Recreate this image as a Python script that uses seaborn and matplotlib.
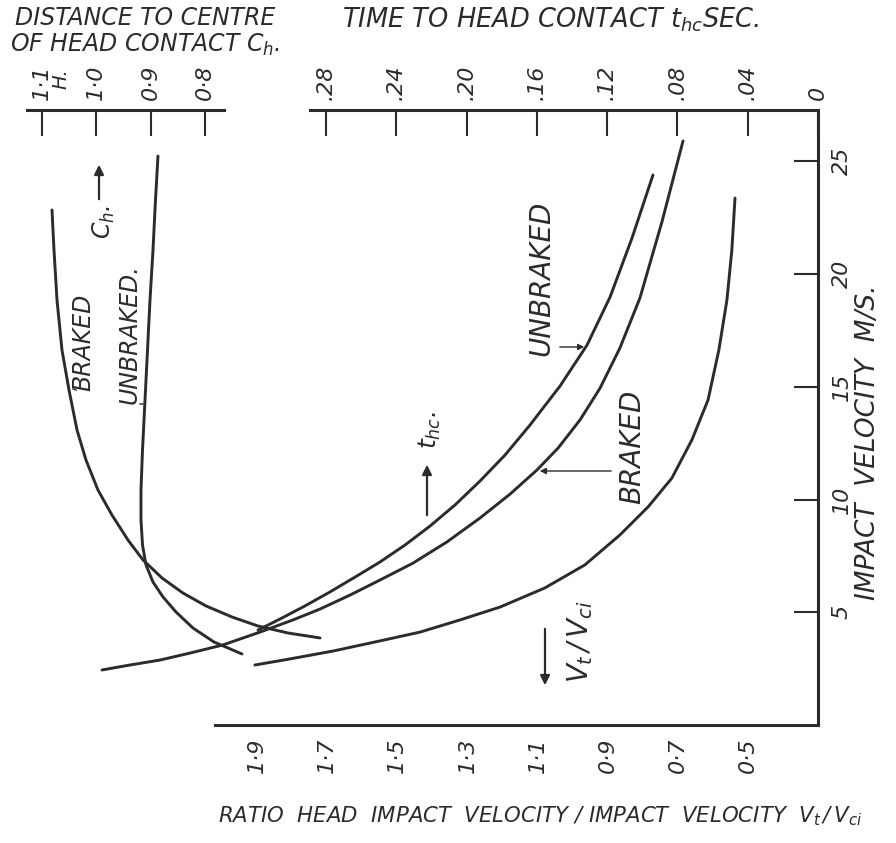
import matplotlib
matplotlib.use("Agg")
import matplotlib.pyplot as plt
import seaborn as sns

# ---------------- data ----------------
vel_ticks = [5, 10, 15, 20, 25]
vel_labels = ["5", "10", "15", "20", "25"]
ratio_ticks = [1.9, 1.7, 1.5, 1.3, 1.1, 0.9, 0.7, 0.5]
ratio_labels = ["1·9", "1·7", "1·5", "1·3", "1·1", "0·9", "0·7", "0·5"]
thc_ticks = [0.28, 0.24, 0.20, 0.16, 0.12, 0.08, 0.04, 0.0]
thc_labels = [".28", ".24", ".20", ".16", ".12", ".08", ".04", "0"]
ch_ticks = [1.1, 1.0, 0.9, 0.8]
ch_labels = ["1·1", "1·0", "0·9", "0·8"]

# head impact velocity ratio Vt/Vci versus impact velocity
vt_ratio = [0.537, 0.546, 0.560, 0.583, 0.614, 0.660, 0.717, 0.785, 0.865,
            0.965, 1.079, 1.207, 1.321, 1.435, 1.549, 1.683, 1.806, 1.906]
vt_vel = [23.37, 21.06, 18.85, 16.63, 14.41, 12.64, 10.95, 9.67, 8.43,
          7.10, 6.08, 5.23, 4.66, 4.12, 3.73, 3.28, 2.93, 2.66]

# time to head contact, unbraked
thc_unbr_t = [0.0939, 0.1058, 0.1183, 0.1314, 0.1468, 0.1639, 0.1781, 0.1923,
              0.2065, 0.2208, 0.2350, 0.2492, 0.2634, 0.2777, 0.2919, 0.3061,
              0.3186]
thc_unbr_v = [24.39, 21.60, 18.98, 16.85, 15.03, 13.30, 11.97, 10.82,
              9.76, 8.82, 7.98, 7.23, 6.56, 5.90, 5.28, 4.70, 4.21]
# time to head contact, braked
thc_br_t = [0.0768, 0.0888, 0.1013, 0.1127, 0.1240, 0.1354, 0.1479, 0.1599,
            0.1752, 0.1923, 0.2111, 0.2304, 0.2492, 0.2663, 0.2834, 0.2987,
            0.3175, 0.3386, 0.3573, 0.3744, 0.3915, 0.4074]
thc_br_v = [25.90, 22.31, 18.94, 16.72, 14.94, 13.53, 12.28, 11.31,
            10.24, 9.18, 8.12, 7.18, 6.43, 5.76, 5.14, 4.66,
            4.12, 3.55, 3.19, 2.88, 2.66, 2.44]

# distance to centre of head contact, braked
ch_br_c = [1.0816, 1.0779, 1.0724, 1.0632, 1.0503, 1.0355, 1.0190, 0.9969,
           0.9711, 0.9416, 0.9140, 0.8790, 0.8403, 0.7980, 0.7501, 0.7022,
           0.6470, 0.5880]
ch_br_v = [22.84, 21.06, 18.85, 16.63, 14.86, 13.08, 11.75, 10.42,
           9.31, 8.20, 7.32, 6.52, 5.85, 5.28, 4.79, 4.39, 4.08, 3.86]
# distance to centre of head contact, unbraked
ch_unbr_c = [0.8864, 0.8910, 0.8956, 0.9011, 0.9057, 0.9103, 0.9149, 0.9177,
             0.9177, 0.9149, 0.9085, 0.8956, 0.8772, 0.8532, 0.8219, 0.7832,
             0.7317]
ch_unbr_v = [25.23, 23.28, 21.06, 18.85, 16.63, 14.41, 12.20, 10.42,
             9.09, 7.98, 7.10, 6.34, 5.68, 5.01, 4.30, 3.68, 3.15]

# ---------------- style ----------------
sns.set_style("white")
plt.rcParams["font.family"] = ["DejaVu Sans"]
plt.rcParams["font.style"] = "oblique"
plt.rcParams["mathtext.fontset"] = "dejavusans"
plt.rcParams["mathtext.default"] = "it"

INK = "#2b2b2b"
LW = 2.1
W, H = 896, 843


def box(x0, y0, x1, y1):
    return [x0 / W, 1 - y1 / H, (x1 - x0) / W, (y1 - y0) / H]


fig = plt.figure(figsize=(W / 100, H / 100), dpi=100)
fig.patch.set_facecolor("white")

VMAX = (725 - 110) / 22.55

# main axes: ratio (bottom) vs impact velocity (right)
ax = fig.add_axes(box(215, 110, 818, 725))
ax.set_xlim(1.9 + 42 / 350.7, 1.9 - 561 / 350.7)
ax.set_ylim(0, VMAX)

# overlay: time to head contact (top)
ax_t = fig.add_axes(box(20, 110, 818, 725))
ax_t.set_xlim((818 - 20) / 1757.5, 0)
ax_t.set_ylim(0, VMAX)

# overlay: distance to centre of head contact (top-left)
ax_c = fig.add_axes(box(20, 110, 818, 725))
ax_c.set_xlim(1.1 + 22 / 543, 1.1 - 776 / 543)
ax_c.set_ylim(0, VMAX)

for a in (ax, ax_t, ax_c):
    a.patch.set_visible(False)
    for s in a.spines.values():
        s.set_visible(False)
        s.set_linewidth(2.2)
        s.set_color(INK)

# main spines
ax.spines["bottom"].set_visible(True)
ax.spines["right"].set_visible(True)
ax.yaxis.tick_right()
ax.set_xticks(ratio_ticks)
ax.set_xticklabels(ratio_labels)
ax.set_yticks(vel_ticks)
ax.set_yticklabels(vel_labels)
ax.tick_params(axis="x", direction="in", length=18, width=1.5, color=INK,
               pad=9, labelsize=16, labelcolor=INK, labelrotation=90)
ax.tick_params(axis="y", direction="in", length=17, width=1.5, color=INK,
               pad=10, labelsize=16, labelcolor=INK, labelrotation=90)
for lab in ax.get_yticklabels():
    lab.set_va("center")

# top time axis
ax_t.spines["top"].set_visible(True)
ax_t.spines["top"].set_bounds((818 - 310) / 1757.5, 0)
ax_t.xaxis.tick_top()
ax_t.set_xticks(thc_ticks)
ax_t.set_xticklabels(thc_labels)
ax_t.set_yticks([])
ax_t.tick_params(axis="x", direction="in", length=19, width=1.5, color=INK,
                 pad=7, labelsize=16, labelcolor=INK, labelrotation=90)

# top-left Ch axis
ax_c.spines["top"].set_visible(True)
ax_c.spines["top"].set_bounds(1.1 + 15 / 543, 1.1 - 182 / 543)
ax_c.xaxis.tick_top()
ax_c.set_xticks(ch_ticks)
ax_c.set_xticklabels(ch_labels)
ax_c.set_yticks([])
ax_c.tick_params(axis="x", direction="in", length=19, width=1.5, color=INK,
                 pad=7, labelsize=16, labelcolor=INK, labelrotation=90)

# ---------------- curves ----------------
kw = dict(sort=False, estimator=None, color=INK, linewidth=LW, legend=False)
sns.lineplot(x=vt_ratio, y=vt_vel, ax=ax, **kw)
sns.lineplot(x=thc_unbr_t, y=thc_unbr_v, ax=ax_t, **kw)
sns.lineplot(x=thc_br_t, y=thc_br_v, ax=ax_t, **kw)
sns.lineplot(x=ch_br_c, y=ch_br_v, ax=ax_c, **kw)
sns.lineplot(x=ch_unbr_c, y=ch_unbr_v, ax=ax_c, **kw)
for a in (ax, ax_t, ax_c):
    a.set_xlabel("")
    a.set_ylabel("")
    for ln in a.get_lines():
        ln.set_solid_joinstyle("round")
        ln.set_solid_capstyle("round")

# ---------------- annotations ----------------
arrow = dict(arrowstyle="-|>", color=INK, lw=1.6, mutation_scale=14)
thin = dict(arrowstyle="-|>", color=INK, lw=1.0, mutation_scale=9)
leader = dict(arrowstyle="-", color=INK, lw=1.0)


def cx(px):
    return 1.1 - (px - 42) / 543


def tx(px):
    return (818 - px) / 1757.5


def rx(px):
    return 1.9 - (px - 257) / 350.7


def vy(py):
    return (725 - py) / 22.55


# Ch curve labels
ax_c.text(cx(83), vy(342), "BRAKED", rotation=90,
          ha="center", va="center", fontsize=17, color=INK)
ax_c.annotate("", xy=(cx(70), vy(388)), xytext=(cx(79), vy(391)),
              arrowprops=leader)
ax_c.text(cx(130), vy(334), "UNBRAKED.", rotation=90,
          ha="center", va="center", fontsize=17, color=INK)
ax_c.annotate("", xy=(cx(146), vy(404)), xytext=(cx(137), vy(404)),
              arrowprops=leader)
ax_c.text(cx(104), vy(222), "$C_h$.", rotation=90,
          ha="center", va="center", fontsize=17, color=INK)
ax_c.annotate("", xy=(cx(99), vy(162)), xytext=(cx(99), vy(202)),
              arrowprops=arrow)
ax_c.annotate("H.", xy=(cx(61), 1.0), xycoords=("data", "axes fraction"),
              xytext=(0, 15), textcoords="offset points", rotation=90,
              ha="center", va="bottom", fontsize=14, color=INK)

# t_hc labels
ax_t.text(tx(430), vy(430), "$t_{hc}$.", rotation=90,
          ha="center", va="center", fontsize=18, color=INK)
ax_t.annotate("", xy=(tx(427), vy(462)), xytext=(tx(427), vy(518)),
              arrowprops=arrow)
ax_t.text(tx(541), vy(278), "UNBRAKED", rotation=90,
          ha="center", va="center", fontsize=20, color=INK)
ax_t.annotate("", xy=(tx(587), vy(347)), xytext=(tx(557), vy(347)),
              arrowprops=thin)
ax_t.text(tx(632), vy(447), "BRAKED", rotation=90,
          ha="center", va="center", fontsize=20, color=INK)
ax_t.annotate("", xy=(tx(537), vy(471)), xytext=(tx(614), vy(471)),
              arrowprops=thin)

# Vt/Vci label
ax.text(rx(580), vy(642), "$V_t\\,/\\,V_{ci}$",
        rotation=90, ha="center", va="center", fontsize=20, color=INK)
ax.annotate("", xy=(rx(545), vy(688)), xytext=(rx(545), vy(626)),
            arrowprops=arrow)

# ---------------- titles ----------------
fig.text(15 / W, 1 - 18 / H, "DISTANCE TO CENTRE", ha="left", va="center",
         fontsize=17, color=INK)
fig.text(10 / W, 1 - 45 / H, "OF HEAD CONTACT $C_h$.", ha="left", va="center",
         fontsize=17, color=INK)
fig.text(342 / W, 1 - 20 / H, "TIME TO HEAD CONTACT $t_{hc}$SEC.", ha="left",
         va="center", fontsize=18.5, color=INK)
fig.text(218 / W, 1 - 816 / H,
         "RATIO  HEAD  IMPACT  VELOCITY / IMPACT  VELOCITY  $V_t\\,/\\,V_{ci}$",
         ha="left", va="center", fontsize=15.3, color=INK)
fig.text(868 / W, 1 - 442 / H, "IMPACT  VELOCITY  M/S.", rotation=90,
         ha="center", va="center", fontsize=19, color=INK)

fig.savefig("out.png", dpi=100, facecolor="white")
